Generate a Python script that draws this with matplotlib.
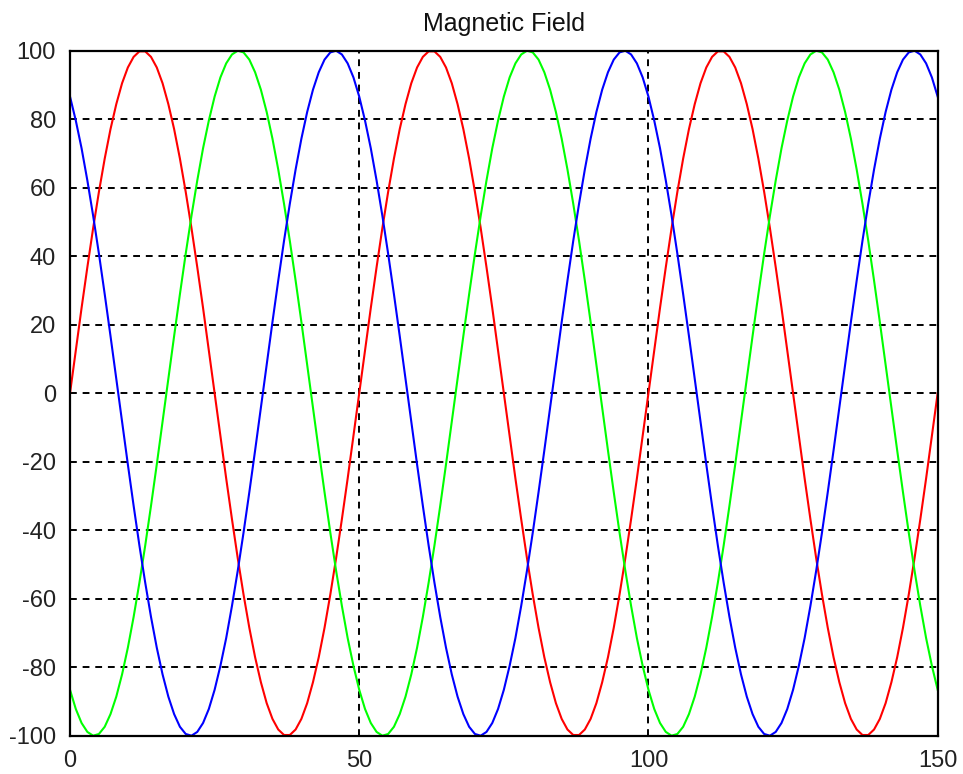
import matplotlib
matplotlib.use("Agg")
import matplotlib.pyplot as plt

# Sample positions (0..150, step 1)
x_values = list(range(0, 151))

# One period (50 samples)
red_period = [0, 12.5, 24.9, 36.8, 48.2, 58.8, 68.5, 77.1, 84.4, 90.5, 95.1, 98.2, 99.8, 99.8, 98.2, 95.1, 90.5, 84.4, 77.1, 68.5,
              58.8, 48.2, 36.8, 24.9, 12.5, 0, -12.5, -24.9, -36.8, -48.2, -58.8, -68.5, -77.1, -84.4, -90.5, -95.1, -98.2, -99.8, -99.8, -98.2,
              -95.1, -90.5, -84.4, -77.1, -68.5, -58.8, -48.2, -36.8, -24.9, -12.5]
blue_period = [86.6, 79.6, 71.5, 62.1, 51.8, 40.7, 28.9, 16.7, 4.2, -8.4, -20.8, -32.9, -44.5, -55.3, -65.3, -74.3, -82.1, -88.6, -93.7, -97.4,
               -99.5, -100.0, -98.9, -96.3, -92.2, -86.6, -79.6, -71.5, -62.1, -51.8, -40.7, -28.9, -16.7, -4.2, 8.4, 20.8, 32.9, 44.5, 55.3, 65.3,
               74.3, 82.1, 88.6, 93.7, 97.4, 99.5, 100.0, 98.9, 96.3, 92.2]
green_period = [-86.6, -92.2, -96.3, -98.9, -100.0, -99.5, -97.4, -93.7, -88.6, -82.1, -74.3, -65.3, -55.3, -44.5, -32.9, -20.8, -8.4, 4.2, 16.7, 28.9,
                40.7, 51.8, 62.1, 71.5, 79.6, 86.6, 92.2, 96.3, 98.9, 100.0, 99.5, 97.4, 93.7, 88.6, 82.1, 74.3, 65.3, 55.3, 44.5, 32.9,
                20.8, 8.4, -4.2, -16.7, -28.9, -40.7, -51.8, -62.1, -71.5, -79.6]

# Full series over three periods plus end point
red_values = red_period * 3 + [red_period[0]]
green_values = green_period * 3 + [green_period[0]]
blue_values = blue_period * 3 + [blue_period[0]]

x_ticks = [0, 50, 100, 150]
y_ticks = [-100, -80, -60, -40, -20, 0, 20, 40, 60, 80, 100]
title_text = "Magnetic Field"

plt.rcParams['font.family'] = ['Liberation Sans', 'DejaVu Sans']
plt.rcParams['axes.unicode_minus'] = False

fig = plt.figure(figsize=(9.63, 7.74), dpi=100)
ax = fig.add_axes([0.0727, 0.0495, 0.9010, 0.8850])

lw = 1.5
ax.plot(x_values, red_values, color='#FF0000', lw=lw, zorder=3)
ax.plot(x_values, green_values, color='#00FF00', lw=lw, zorder=3)
ax.plot(x_values, blue_values, color='#0000FF', lw=lw, zorder=3)

ax.set_xlim(0, 150)
ax.set_ylim(-100, 100)
ax.set_xticks(x_ticks)
ax.set_yticks(y_ticks)
ax.grid(True, color='black', linestyle=(0, (3.5, 3)), linewidth=1.4, zorder=1)
ax.set_axisbelow(True)
for s in ax.spines.values():
    s.set_linewidth(1.6)
    s.set_color('black')
    s.set_zorder(4)
ax.tick_params(direction='in', length=0, labelsize=17, colors='#222222', pad=10)
ax.tick_params(axis='x', pad=10)
ax.set_title(title_text, fontsize=18, pad=14, color='#111111')

fig.savefig("out.png", dpi=100, facecolor='white')
